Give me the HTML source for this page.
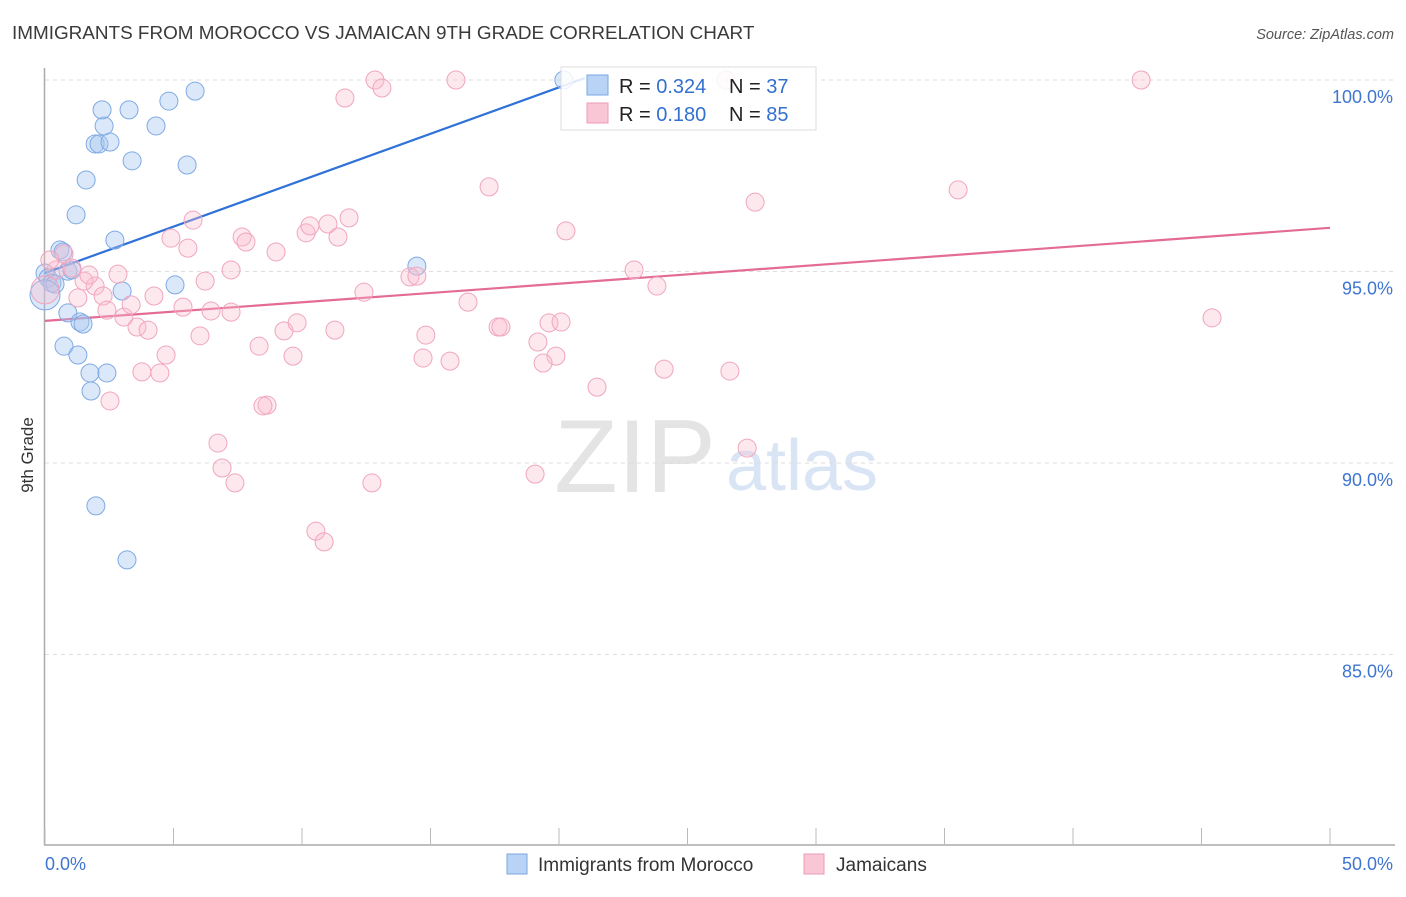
<!DOCTYPE html>
<html><head><meta charset="utf-8"><style>
body{margin:0;background:#fff;font-family:"Liberation Sans",sans-serif;}
svg text{font-family:"Liberation Sans",sans-serif;}
</style></head><body>
<svg id="chart" width="1406" height="892" xmlns="http://www.w3.org/2000/svg">
<text x="12" y="39" font-size="18.9" fill="#3a3a3a">IMMIGRANTS FROM MOROCCO VS JAMAICAN 9TH GRADE CORRELATION CHART</text>
<text x="1394" y="39" font-size="14.5" fill="#555" text-anchor="end" font-style="italic">Source: ZipAtlas.com</text>
<text transform="translate(33,455) rotate(-90)" font-size="17" fill="#333" text-anchor="middle">9th Grade</text>
<g>
<text x="635" y="492" font-size="104" fill="#e4e4e4" text-anchor="middle" font-family="Liberation Serif,serif">ZIP</text>
<text x="802" y="490" font-size="72" fill="#d9e5f4" text-anchor="middle">atlas</text>
</g>
<g id="grid"></g>
<g id="axes"></g>
<g id="lines"></g>
<g id="pts"></g>
<g>
<rect x="561" y="67" width="255" height="63" fill="rgba(255,255,255,0.85)" stroke="#ddd"/>
<rect x="587" y="75" width="21" height="20" fill="#b8d3f5" stroke="#7aa6e3"/>
<text x="619" y="93" font-size="20" fill="#222">R = <tspan fill="#3470d0">0.324</tspan></text>
<text x="729" y="93" font-size="20" fill="#222">N = <tspan fill="#3470d0">37</tspan></text>
<rect x="587" y="103" width="21" height="20" fill="#f9c6d6" stroke="#ee9ab7"/>
<text x="619" y="121" font-size="20" fill="#222">R = <tspan fill="#3470d0"> 0.180</tspan></text>
<text x="729" y="121" font-size="20" fill="#222">N = <tspan fill="#3470d0">85</tspan></text>
</g>
<g>
<rect x="507" y="854" width="20" height="20" fill="#b8d3f5" stroke="#7aa6e3"/>
<text x="538" y="871" font-size="19" fill="#333">Immigrants from Morocco</text>
<rect x="804" y="854" width="20" height="20" fill="#f9c6d6" stroke="#ee9ab7"/>
<text x="836" y="871" font-size="19" fill="#333">Jamaicans</text>
</g>
</svg>
<script>
const blueX=[0.0,0.12,0.27,0.39,0.58,0.70,0.89,1.05,0.89,1.36,1.48,0.74,1.28,1.75,2.41,1.79,1.98,3.19,1.21,1.60,1.95,2.10,2.53,3.39,2.30,2.22,3.27,4.32,4.82,5.84,5.53,2.72,3.00,5.06,14.47,20.19,0.0];
const blueY=[94.96,94.83,94.70,94.67,95.56,95.51,95.01,95.04,93.92,93.68,93.63,93.05,92.82,92.35,92.35,91.88,88.88,87.47,96.48,97.39,98.33,98.33,98.38,97.89,98.80,99.22,99.22,98.80,99.45,99.71,97.78,95.82,94.49,94.65,95.14,100.0,94.39];
const pinkX=[12.84,13.11,11.67,5.76,4.90,5.56,7.67,7.82,8.99,10.16,10.31,11.01,11.40,11.83,7.24,6.23,12.41,7.24,5.37,6.46,4.24,3.58,4.01,4.71,3.77,4.47,2.53,6.03,8.33,9.30,9.65,9.81,11.28,8.64,8.48,6.73,6.89,7.39,10.54,10.86,12.72,1.95,1.52,2.26,3.07,3.35,2.84,2.41,1.28,1.71,0.74,0.43,0.19,1.05,0.0,15.99,17.28,20.27,14.20,14.47,16.46,14.82,14.71,15.76,17.63,17.74,19.18,19.61,20.08,19.88,19.38,21.48,22.92,23.81,24.09,26.65,27.63,27.32,19.07,26.50,35.53,42.65,45.41];
const pinkY=[100,99.79,99.53,96.34,95.87,95.61,95.90,95.77,95.51,96.01,96.19,96.24,95.90,96.40,95.04,94.75,94.46,93.94,94.07,93.97,94.36,93.55,93.47,92.82,92.38,92.35,91.62,93.32,93.05,93.45,92.79,93.66,93.47,91.51,91.49,90.52,89.87,89.48,88.22,87.94,89.48,94.62,94.75,94.36,93.81,94.13,94.93,93.99,94.31,94.91,95.46,95.04,95.30,95.09,94.52,100,97.21,96.06,94.86,94.88,94.20,93.34,92.74,92.66,93.55,93.55,93.16,93.66,93.68,92.79,92.61,91.98,95.04,94.62,92.45,92.40,96.81,90.39,89.71,100,97.13,100,93.79];
const blueTrend=[94.96,100.05], blueTrendX=[0,21.0];
const pinkTrend=[93.71,96.14], pinkTrendX=[0,50];
const yTicks=[100,95,90,85];
const yTickLabels=["100.0%","95.0%","90.0%","85.0%"];
const xTicks=[0,5,10,15,20,25,30,35,40,45,50];
const NS="http://www.w3.org/2000/svg";
const sx=v=>45+v*25.7;
const sy=v=>80+(100-v)*38.3;
function mk(tag,attrs,parent){const e=document.createElementNS(NS,tag);for(const k in attrs)e.setAttribute(k,attrs[k]);document.getElementById(parent).appendChild(e);return e;}
yTicks.forEach((t,i)=>{
 const l=mk('line',{x1:45,x2:1395,y1:sy(t),y2:sy(t),stroke:'#ddd','stroke-dasharray':'4,4'},'grid');
 
 
 const tx=mk('text',{x:1393,y:sy(t)+23,'font-size':18,fill:'#3f75d0','text-anchor':'end'},'grid');
 tx.textContent=yTickLabels[i];
 
 
});
const ya=mk('line',{x1:44.5,x2:44.5,y1:68,y2:845,stroke:'#aaa','stroke-width':1.5},'axes');


const xa=mk('line',{x1:44,x2:1395,y1:845,y2:845,stroke:'#aaa','stroke-width':1.5},'axes');


xTicks.forEach(t=>{
 const tk=mk('line',{x1:sx(t),x2:sx(t),y1:828,y2:845,stroke:'#bbb'},'axes');
 
 
});
const xl0=mk('text',{x:45,y:870,'font-size':18,fill:'#3f75d0'},'axes');xl0.textContent=xTicks[0].toFixed(1)+'%';


const xl1=mk('text',{x:1393,y:870,'font-size':18,fill:'#3f75d0','text-anchor':'end'},'axes');xl1.textContent=xTicks[xTicks.length-1].toFixed(1)+'%';


blueX.forEach((x,i)=>{
 const big=(i===blueX.length-1);
 const c=mk('circle',{cx:sx(x),cy:sy(blueY[i]),r:big?15:9,fill:'rgba(165,198,240,0.4)',stroke:'#7eaae3','stroke-width':1},'pts');
 
 
});
pinkX.forEach((x,i)=>{
 const big=(x===0);
 const c=mk('circle',{cx:sx(x),cy:sy(pinkY[i]),r:big?14:9,fill:'rgba(248,188,206,0.35)',stroke:'#f0a5bf','stroke-width':1},'pts');
 
 
});
const bl=mk('line',{x1:sx(blueTrendX[0]),y1:sy(blueTrend[0]),x2:sx(blueTrendX[1]),y2:sy(blueTrend[1]),stroke:'#2f72d8','stroke-width':2.2},'lines');


const pl=mk('line',{x1:sx(pinkTrendX[0]),y1:sy(pinkTrend[0]),x2:sx(pinkTrendX[1]),y2:sy(pinkTrend[1]),stroke:'#e36b96','stroke-width':2.2},'lines');


</script>
</body></html>
